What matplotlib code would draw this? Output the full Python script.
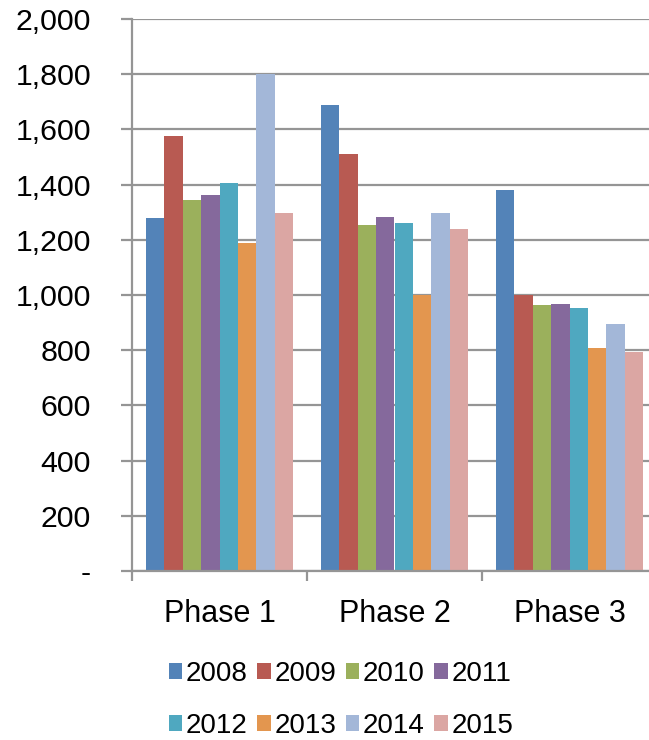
import numpy as np
import matplotlib
matplotlib.use("Agg")
import matplotlib.pyplot as plt
from matplotlib.ticker import FuncFormatter, FixedLocator

plt.rcParams['font.family'] = ['Liberation Sans', 'DejaVu Sans']

phases = ['Phase 1', 'Phase 2', 'Phase 3']
years = ['2008', '2009', '2010', '2011', '2012', '2013', '2014', '2015']
colors = ['#5383B8', '#B85A52', '#9BB05C', '#85699C',
          '#4FA8C0', '#E3964F', '#A3B7D8', '#DBA6A3']

# one list per year, values for Phase 1..3
v2008 = [1280, 1690, 1380]
v2009 = [1575, 1510, 1000]
v2010 = [1345, 1255, 962]
v2011 = [1363, 1282, 968]
v2012 = [1405, 1260, 952]
v2013 = [1187, 1000, 809]
v2014 = [1800, 1298, 895]
v2015 = [1298, 1239, 793]
series = [v2008, v2009, v2010, v2011, v2012, v2013, v2014, v2015]

grey = '#959595'

fig = plt.figure(figsize=(6.49, 7.40), dpi=100)
ax = fig.add_axes([132 / 649, 169 / 740, 525 / 649, 552 / 740])

n = len(series)
group = 8 / 9.5
w = group / n
x = np.arange(len(phases))
handles = []
for i, (vals, yr, c) in enumerate(zip(series, years, colors)):
    b = ax.bar(x - group / 2 + w * (i + 0.5), vals, width=w, color=c,
               label=yr, zorder=3, linewidth=0)
    handles.append(b)

ax.set_xlim(-0.5, 2.5)
ax.set_ylim(0, 2000)
ax.set_yticks(np.arange(0, 2001, 200))
ax.yaxis.set_major_formatter(FuncFormatter(
    lambda v, p: '-' if v == 0 else f'{int(v):,}'))
ax.grid(axis='y', color=grey, linewidth=1.6, zorder=0)

# category labels centred, ticks on the boundaries
ax.set_xticks(x)
ax.set_xticklabels(phases)
ax.xaxis.set_minor_locator(FixedLocator([-0.5, 0.5, 1.5, 2.5]))
ax.tick_params(axis='x', which='major', length=0, pad=20, labelsize=22)
ax.tick_params(axis='x', which='minor', length=7.2, width=1.6, color=grey)
ax.tick_params(axis='y', length=8, width=1.6, color=grey, pad=21.5,
               labelsize=21.8)

for s in ['top', 'right']:
    ax.spines[s].set_visible(False)
for s in ['left', 'bottom']:
    ax.spines[s].set_color(grey)
    ax.spines[s].set_linewidth(1.6)
    ax.spines[s].set_zorder(4)

# legend fills by column, so interleave to read across rows
order = [0, 4, 1, 5, 2, 6, 3, 7]
fig.legend([handles[k] for k in order], [years[k] for k in order],
           loc='center', bbox_to_anchor=(341 / 649, 40 / 740), ncol=4,
           frameon=False, fontsize=20, handlelength=0.49,
           handleheight=0.49, handletextpad=0.13, columnspacing=0.34,
           labelspacing=0.94, borderpad=0)

fig.savefig('out.png', dpi=100)
